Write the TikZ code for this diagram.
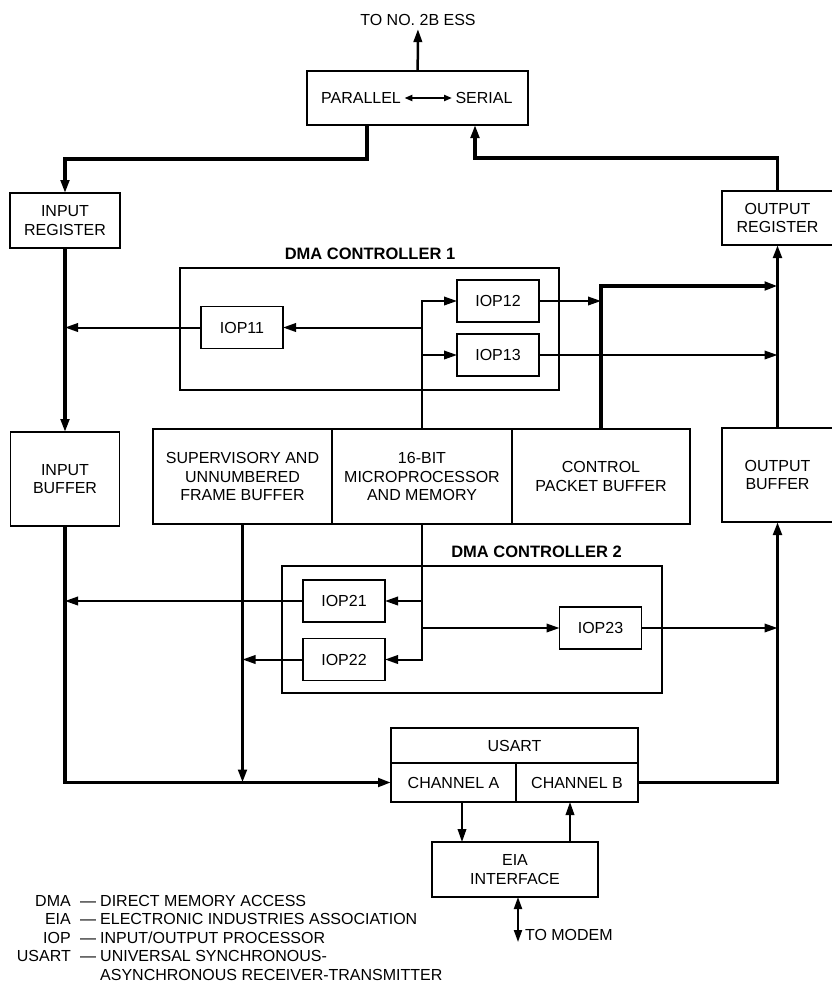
\documentclass[tikz,border=0pt]{standalone}
\usepackage{fontspec}
\setmainfont{Liberation Sans}
\usetikzlibrary{arrows.meta,positioning,calc}

\begin{document}
\begin{tikzpicture}[x=1pt,y=-1pt,font=\fontsize{16}{18.5}\selectfont,
  box/.style={draw,line width=1.6pt,align=center,outer sep=0pt},
  iop/.style={box,minimum width=82pt,minimum height=42pt},
  frame/.style={draw,line width=1.6pt,outer sep=0pt},
  lbl/.style={font=\fontsize{16.5}{19}\selectfont\bfseries},
  conn/.style={line width=2pt},
  bus/.style={line width=3.8pt},
  arr/.style={-{Triangle[length=13pt,width=8.5pt]}},
  dblarr/.style={{Triangle[length=12pt,width=8pt]}-{Triangle[length=12pt,width=8pt]}}]
\useasboundingbox (0,0) rectangle (831,983);
% top converter
\node[box,minimum width=221pt,minimum height=54pt] (ps) at (417.5,98) {};
\node (par) at (361,98) {PARALLEL};
\node (ser) at (484,98) {SERIAL};
\draw[conn,{Triangle[length=8pt,width=6pt]}-{Triangle[length=8pt,width=6pt]}] (par) -- (ser);
\node (ess) at (418,20) {TO NO. 2B ESS};
\draw[line width=2.5pt,arr] (ps) -- (ess);
% registers and buffers
\node[box,minimum width=110pt,minimum height=55pt] (inreg) at (65,220.5) {INPUT\\REGISTER};
\node[box,minimum width=111pt,minimum height=54pt] (outreg) at (777.5,218) {OUTPUT\\REGISTER};
\node[box,minimum width=109pt,minimum height=94pt] (inbuf) at (65,479) {INPUT\\BUFFER};
\node[box,minimum width=111pt,minimum height=94pt] (outbuf) at (777.5,475) {OUTPUT\\BUFFER};
% central block
\node[box,minimum width=179pt,minimum height=95pt] (sup) at (242.5,476.5) {SUPERVISORY AND\\UNNUMBERED\\FRAME BUFFER};
\node[box,minimum width=180pt,minimum height=95pt,right=0pt of sup] (mp) {16-BIT\\MICROPROCESSOR\\AND MEMORY};
\node[box,minimum width=178pt,minimum height=95pt,right=0pt of mp] (cpb) {CONTROL\\PACKET BUFFER};
% DMA controllers
\node[frame,minimum width=379pt,minimum height=122pt] (dma1) at (369.5,329) {};
\node[lbl] (dma1lbl) at (370,254) {DMA CONTROLLER 1};
\node[iop] (iop11) at (242,327.5) {IOP11};
\node[iop] (iop12) at (498,301) {IOP12};
\node[iop] (iop13) at (498,355) {IOP13};
\node[frame,minimum width=380pt,minimum height=127pt] (dma2) at (472,629.5) {};
\node[lbl] (dma2lbl) at (536.5,552) {DMA CONTROLLER 2};
\node[iop] (iop21) at (344,601) {IOP21};
\node[iop] (iop22) at (344,659.5) {IOP22};
\node[iop] (iop23) at (600.5,628) {IOP23};
% USART and EIA
\node[box,minimum width=247pt,minimum height=35pt] (usart) at (514.5,745.5) {USART};
\node[box,minimum width=125pt,minimum height=39pt,anchor=north west] (cha) at (usart.south west) {CHANNEL A};
\node[box,minimum width=122pt,minimum height=39pt,anchor=north east] (chb) at (usart.south east) {CHANNEL B};
\node[box,minimum width=166pt,minimum height=55pt] (eia) at (515,869.5) {EIA\\INTERFACE};
\coordinate (modem) at (518,942);
\node[anchor=west] (modemlbl) at (521.5,935) {TO MODEM};
\coordinate (cpend) at (777.5,286);
% thick paths
\draw[bus,arr] ([xshift=-50.5pt]ps.south) -- ++(0,34) -| (inreg.north);
\draw[bus,arr] (outreg.north) -- ++(0,-33) -| ([xshift=57.5pt]ps.south);
\draw[bus,arr] (inreg) -- (inbuf);
\draw[bus,arr] (outbuf) -- (outreg);
\draw[bus,arr] (inbuf.south) |- (cha.west);
\draw[bus,arr] (sup.south) -- (sup.south |- cha.west);
\draw[bus,arr] (cpb.north) |- (cpend);
\draw[bus,arr] (chb.east) -| (outbuf.south);
% IOP paths
\draw[conn,arr] (mp.north) |- (iop12);
\draw[conn,arr] (mp.north |- iop11) -- (iop11);
\draw[conn,arr] (mp.north |- iop13) -- (iop13);
\draw[conn,arr] (iop11) -- (iop11 -| inbuf.north);
\draw[conn,arr] (iop12) -- (iop12 -| cpb.north);
\draw[conn,arr] (iop13) -- (iop13 -| outbuf.north);
\draw[conn,arr] (mp.south) |- (iop22);
\draw[conn,arr] (mp.south |- iop21) -- (iop21);
\draw[conn,arr] (mp.south |- iop23) -- (iop23);
\draw[conn,arr] (iop21) -- (iop21 -| inbuf.south);
\draw[conn,arr] (iop22) -- (iop22 -| sup.south);
\draw[conn,arr] (iop23) -- (iop23 -| outbuf.north);
% modem side
\draw[conn,arr] ([xshift=8.5pt]cha.south) -- ([xshift=8.5pt]cha.south |- eia.north);
\draw[conn,arr] ([xshift=-7pt]chb.south |- eia.north) -- ([xshift=-7pt]chb.south);
\draw[conn,dblarr] (eia.south -| modem) -- (modem);
% legend
\foreach \ab/\de [count=\i] in {DMA/DIRECT MEMORY ACCESS,EIA/ELECTRONIC INDUSTRIES ASSOCIATION,IOP/{INPUT/OUTPUT PROCESSOR},USART/UNIVERSAL SYNCHRONOUS-} {
  \node[anchor=base east,inner sep=0pt] (abbr\i) at (71,906+18.5*\i-18.5) {\ab};
  \node[anchor=base,inner sep=0pt] (dash\i) at (88,906+18.5*\i-18.5) {---};
  \node[anchor=base west,inner sep=0pt] (defn\i) at (100,906+18.5*\i-18.5) {\de};
}
\node[anchor=base west,inner sep=0pt] (defn5) at (100,980) {ASYNCHRONOUS RECEIVER-TRANSMITTER};
\end{tikzpicture}
\end{document}
